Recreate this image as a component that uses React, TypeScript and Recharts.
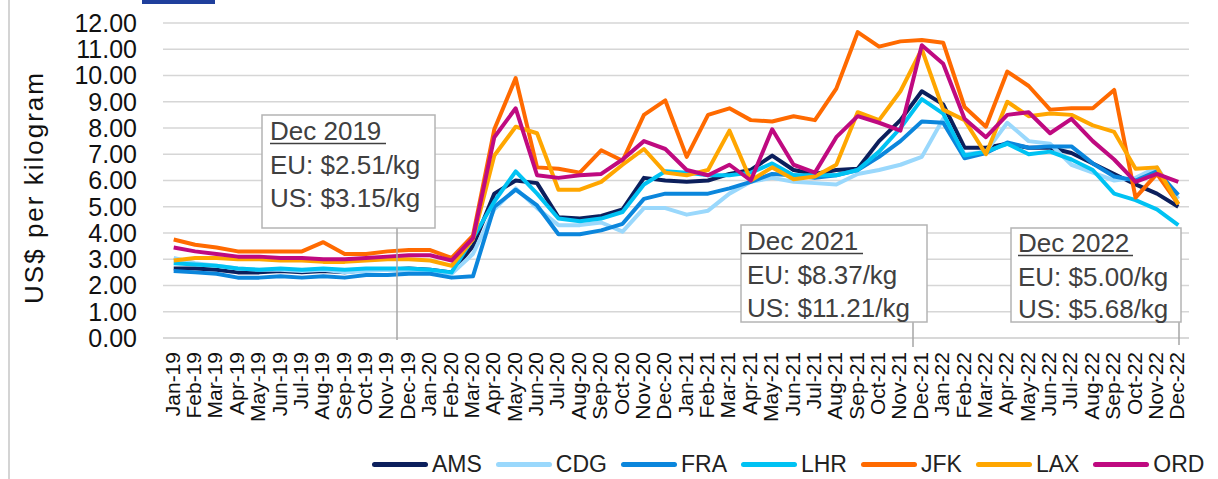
import React from 'react';
import { LineChart, Line, XAxis, YAxis, CartesianGrid, Legend } from 'recharts';

// Airfreight rates, US$ per kilogram, Jan-19 .. Dec-22
const months = [
  'Jan-19', 'Feb-19', 'Mar-19', 'Apr-19', 'May-19', 'Jun-19', 'Jul-19', 'Aug-19', 'Sep-19', 'Oct-19', 'Nov-19', 'Dec-19',
  'Jan-20', 'Feb-20', 'Mar-20', 'Apr-20', 'May-20', 'Jun-20', 'Jul-20', 'Aug-20', 'Sep-20', 'Oct-20', 'Nov-20', 'Dec-20',
  'Jan-21', 'Feb-21', 'Mar-21', 'Apr-21', 'May-21', 'Jun-21', 'Jul-21', 'Aug-21', 'Sep-21', 'Oct-21', 'Nov-21', 'Dec-21',
  'Jan-22', 'Feb-22', 'Mar-22', 'Apr-22', 'May-22', 'Jun-22', 'Jul-22', 'Aug-22', 'Sep-22', 'Oct-22', 'Nov-22', 'Dec-22',
];

const ams = [
  2.65, 2.65, 2.6, 2.5, 2.5, 2.55, 2.5, 2.55, 2.5, 2.6, 2.6, 2.65,
  2.6, 2.5, 3.5, 5.5, 6.0, 5.9, 4.6, 4.55, 4.65, 4.9, 6.1, 6.0,
  5.95, 6.0, 6.25, 6.4, 6.95, 6.4, 6.25, 6.4, 6.45, 7.5, 8.3, 9.4,
  8.9, 7.25, 7.25, 7.4, 7.25, 7.25, 7.05, 6.65, 6.25, 5.85, 5.5, 5.0,
];
const cdg = [
  3.05, 2.85, 2.75, 2.65, 2.6, 2.6, 2.55, 2.6, 2.5, 2.55, 2.6, 2.55,
  2.55, 2.45, 3.2, 4.9, 5.7, 4.95, 4.3, 4.3, 4.4, 4.05, 4.95, 4.95,
  4.7, 4.85, 5.5, 5.95, 6.1, 5.95, 5.9, 5.85, 6.25, 6.4, 6.6, 6.9,
  8.35, 7.0, 7.1, 8.2, 7.5, 7.4, 6.6, 6.3, 6.0, 6.1, 6.5, 5.3,
];
const fra = [
  2.55, 2.5, 2.45, 2.3, 2.3, 2.35, 2.3, 2.35, 2.3, 2.4, 2.4, 2.45,
  2.45, 2.3, 2.35, 5.0, 5.65, 5.05, 3.95, 3.95, 4.1, 4.35, 5.3, 5.5,
  5.5, 5.5, 5.7, 5.95, 6.25, 6.2, 6.1, 6.2, 6.4, 6.9, 7.5, 8.25,
  8.2, 6.85, 7.05, 7.45, 7.25, 7.3, 7.3, 6.65, 6.15, 6.0, 6.35, 5.45,
];
const lhr = [
  2.85, 2.8, 2.75, 2.65, 2.6, 2.65, 2.6, 2.65, 2.6, 2.65, 2.65, 2.65,
  2.6, 2.5, 3.8, 5.2, 6.35, 5.5, 4.55, 4.45, 4.55, 4.8, 5.85, 6.35,
  6.3, 6.2, 6.2, 6.3, 6.65, 6.2, 6.2, 6.2, 6.4, 7.1, 8.0, 9.1,
  8.55, 6.95, 7.1, 7.4, 7.0, 7.1, 6.8, 6.4, 5.5, 5.25, 4.9, 4.3,
];
const jfk = [
  3.75, 3.55, 3.45, 3.3, 3.3, 3.3, 3.3, 3.65, 3.2, 3.2, 3.3, 3.35,
  3.35, 3.05, 3.9, 7.95, 9.9, 6.5, 6.45, 6.3, 7.15, 6.75, 8.5, 9.05,
  6.9, 8.5, 8.75, 8.3, 8.25, 8.45, 8.3, 9.5, 11.65, 11.1, 11.3, 11.35,
  11.25, 8.8, 8.05, 10.15, 9.6, 8.7, 8.75, 8.75, 9.45, 5.35, 6.25, 5.1,
];
const lax = [
  2.95, 3.05, 3.05, 3.0, 3.0, 2.95, 2.95, 2.9, 2.9, 2.95, 3.0, 3.0,
  2.95, 2.75, 3.75, 6.95, 8.05, 7.8, 5.65, 5.65, 5.95, 6.6, 7.2, 6.3,
  6.2, 6.4, 7.9, 6.0, 6.5, 6.05, 6.15, 6.6, 8.6, 8.3, 9.4, 11.0,
  8.7, 8.3, 7.0, 9.0, 8.45, 8.55, 8.5, 8.1, 7.85, 6.45, 6.5, 5.1,
];
const ord = [
  3.45, 3.3, 3.2, 3.1, 3.1, 3.05, 3.05, 3.0, 3.0, 3.05, 3.1, 3.15,
  3.15, 2.95, 3.8, 7.65, 8.75, 6.2, 6.1, 6.2, 6.25, 6.8, 7.5, 7.2,
  6.4, 6.2, 6.6, 6.0, 7.95, 6.6, 6.3, 7.65, 8.45, 8.2, 7.9, 11.15,
  10.45, 8.35, 7.65, 8.5, 8.6, 7.8, 8.35, 7.5, 6.8, 5.95, 6.25, 5.95,
];

const yTicks = [0, 1, 2, 3, 4, 5, 6, 7, 8, 9, 10, 11, 12];

const series = [
  { key: 'AMS', values: ams, color: '#0c1f5c' },
  { key: 'CDG', values: cdg, color: '#9ad8fc' },
  { key: 'FRA', values: fra, color: '#0b86dc' },
  { key: 'LHR', values: lhr, color: '#00c2f3' },
  { key: 'JFK', values: jfk, color: '#ff6a00' },
  { key: 'LAX', values: lax, color: '#ffa600' },
  { key: 'ORD', values: ord, color: '#bf0a80' },
];

// callout boxes
const notes = [
  { title: 'Dec 2019', eu: 'EU: $2.51/kg', us: 'US: $3.15/kg', x: 262, y: 115, w: 173, h: 113, tx: 270, lineX: 397, lineEnd: 340, base: [140, 174, 207], ulFrom: 270, ulTo: 386 },
  { title: 'Dec 2021', eu: 'EU: $8.37/kg', us: 'US: $11.21/kg', x: 741, y: 225, w: 186, h: 97, tx: 747, lineX: 913, lineEnd: 347, base: [250, 284, 317], ulFrom: 741, ulTo: 863 },
  { title: 'Dec 2022', eu: 'EU: $5.00/kg', us: 'US: $5.68/kg', x: 1011, y: 228, w: 170, h: 94, tx: 1018, lineX: 1179, lineEnd: 345, base: [252, 286, 318], ulFrom: 1018, ulTo: 1133 },
];

const FONT = '"Liberation Sans", Arial, sans-serif';
const gridColor = '#d6d6d6';
const textColor = '#404040';

const data = months.map((m, i) => {
  const row: Record<string, string | number> = { month: m };
  series.forEach((s) => {
    row[s.key] = s.values[i];
  });
  return row;
});

const MonthTick = ({ x, y, payload }: any) => (
  <text
    x={x}
    y={y}
    dy={6}
    transform={`rotate(-90, ${x}, ${y})`}
    textAnchor="end"
    fontSize={21}
    fontFamily={FONT}
    fill="#111"
  >
    {payload.value}
  </text>
);

const AxisTitle = ({ viewBox }: any) => {
  const cx = 34;
  const cy = viewBox ? viewBox.y + viewBox.height / 2 + 7 : 187;
  return (
    <text
      x={cx}
      y={cy}
      transform={`rotate(-90, ${cx}, ${cy})`}
      textAnchor="middle"
      dominantBaseline="central"
      fontSize={26}
      letterSpacing={2}
      fontFamily={FONT}
      fill="#111"
    >
      US$ per kilogram
    </text>
  );
};

const renderLegend = () => (
  <div style={{ position: 'relative', height: 30, fontFamily: FONT }}>
    <div style={{ position: 'absolute', left: 372, top: 2, display: 'flex', alignItems: 'center', gap: 14 }}>
      {series.map((s) => (
        <div key={s.key} style={{ display: 'flex', alignItems: 'center' }}>
          <span style={{ display: 'inline-block', width: 56, height: 5, borderRadius: 3, background: s.color }} />
          <span style={{ marginLeft: 4, fontSize: 23, color: '#222', lineHeight: '26px' }}>{s.key}</span>
        </div>
      ))}
    </div>
  </div>
);

const Callouts = () => (
  <svg width={1218} height={479} style={{ position: 'absolute', left: 0, top: 0, pointerEvents: 'none' }}>
    {notes.map((n) => (
      <g key={n.title} fontFamily={FONT} fontSize={26} fill={textColor}>
        <line x1={n.lineX} y1={n.y + n.h} x2={n.lineX} y2={n.lineEnd} stroke="#a6a6a6" strokeWidth={1.5} />
        <rect x={n.x} y={n.y} width={n.w} height={n.h} fill="#fff" stroke="#b4b4b4" strokeWidth={1.5} />
        <text x={n.tx} y={n.base[0]}>{n.title}</text>
        <line x1={n.ulFrom} y1={n.base[0] + 3.5} x2={n.ulTo} y2={n.base[0] + 3.5} stroke={textColor} strokeWidth={1.5} />
        <text x={n.tx} y={n.base[1]}>{n.eu}</text>
        <text x={n.tx} y={n.base[2]}>{n.us}</text>
      </g>
    ))}
  </svg>
);

export default function App() {
  return (
    <div style={{ position: 'absolute', left: 0, top: 0, width: 1218, height: 479, background: '#fff', overflow: 'hidden' }}>
      <LineChart width={1218} height={479} data={data} margin={{ top: 23, right: 29, bottom: 0, left: 10 }}>
        <CartesianGrid vertical={false} stroke={gridColor} strokeWidth={1.5} />
        <XAxis
          dataKey="month"
          interval={0}
          height={111}
          tick={<MonthTick />}
          tickLine={false}
          tickSize={0}
          tickMargin={14}
          axisLine={{ stroke: gridColor, strokeWidth: 1.5 }}
          padding={{ left: 10.7, right: 10.7 }}
        />
        <YAxis
          width={153}
          domain={[0, 12]}
          ticks={yTicks}
          interval={0}
          tickFormatter={(v: number) => v.toFixed(2)}
          tick={{ fontSize: 25, fill: '#111', fontFamily: FONT }}
          tickLine={false}
          tickSize={0}
          tickMargin={26}
          axisLine={false}
          label={<AxisTitle />}
        />
        <Legend verticalAlign="bottom" height={30} content={renderLegend} wrapperStyle={{ left: 0, width: 1218 }} />
        {series.map((s) => (
          <Line
            key={s.key}
            type="linear"
            dataKey={s.key}
            stroke={s.color}
            strokeWidth={4}
            strokeLinejoin="round"
            dot={false}
            activeDot={false}
            isAnimationActive={false}
          />
        ))}
      </LineChart>
      <Callouts />
      <div style={{ position: 'absolute', left: 142, top: 0, width: 73, height: 4, background: '#1f3f9c' }} />
      <div style={{ position: 'absolute', left: 8, top: 0, width: 2, height: 479, background: '#d4d4d4' }} />
    </div>
  );
}
